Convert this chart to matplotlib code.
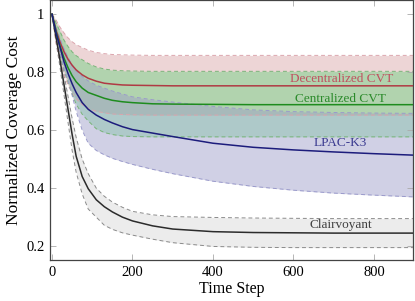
import matplotlib
matplotlib.use('Agg')
import matplotlib.pyplot as plt
import numpy as np

plt.rcParams['font.family'] = ['Liberation Serif', 'DejaVu Serif']
plt.rcParams['mathtext.fontset'] = 'stix'

t = [0, 10, 20, 30, 40, 50, 60, 75, 90, 110, 130, 150, 175, 200, 250, 300,
     400, 500, 600, 700, 800, 897]

# Decentralized CVT
dec_mean = [1.0, 0.945, 0.903, 0.870, 0.844, 0.824, 0.808, 0.791, 0.779, 0.769, 0.762,
            0.759, 0.756, 0.755, 0.754, 0.753, 0.753, 0.753, 0.753, 0.753, 0.753, 0.753]
dec_hi = [1.0, 0.980, 0.955, 0.935, 0.918, 0.905, 0.895, 0.885, 0.876, 0.868, 0.864,
          0.861, 0.860, 0.859, 0.858, 0.858, 0.858, 0.858, 0.858, 0.858, 0.858, 0.858]
dec_lo = [1.0, 0.900, 0.840, 0.790, 0.755, 0.728, 0.708, 0.688, 0.675, 0.665, 0.660,
          0.656, 0.654, 0.653, 0.652, 0.652, 0.652, 0.652, 0.652, 0.652, 0.652, 0.652]

# Centralized CVT
cen_mean = [1.0, 0.940, 0.890, 0.848, 0.815, 0.788, 0.767, 0.745, 0.730, 0.720, 0.710,
            0.703, 0.698, 0.695, 0.691, 0.690, 0.689, 0.688, 0.688, 0.688, 0.688, 0.688]
cen_hi = [1.0, 0.970, 0.940, 0.910, 0.888, 0.870, 0.857, 0.843, 0.830, 0.818, 0.811,
          0.807, 0.805, 0.804, 0.803, 0.803, 0.803, 0.803, 0.803, 0.803, 0.803, 0.803]
cen_lo = [1.0, 0.915, 0.860, 0.805, 0.765, 0.725, 0.690, 0.655, 0.632, 0.605, 0.592,
          0.585, 0.580, 0.578, 0.577, 0.577, 0.577, 0.577, 0.577, 0.577, 0.577, 0.577]

# LPAC-K3
lpac_mean = [1.0, 0.935, 0.886, 0.835, 0.795, 0.760, 0.730, 0.695, 0.672, 0.652, 0.637,
             0.625, 0.612, 0.602, 0.590, 0.578, 0.555, 0.541, 0.532, 0.525, 0.519, 0.514]
lpac_hi = [1.0, 0.955, 0.915, 0.880, 0.850, 0.825, 0.805, 0.785, 0.770, 0.755, 0.745,
           0.735, 0.725, 0.715, 0.705, 0.697, 0.682, 0.670, 0.664, 0.661, 0.659, 0.658]
lpac_lo = [1.0, 0.930, 0.865, 0.810, 0.770, 0.720, 0.665, 0.600, 0.555, 0.530, 0.515,
           0.503, 0.492, 0.482, 0.465, 0.450, 0.424, 0.406, 0.393, 0.383, 0.376, 0.370]

# Clairvoyant
cla_mean = [1.0, 0.920, 0.840, 0.755, 0.670, 0.585, 0.510, 0.440, 0.398, 0.360, 0.336,
            0.318, 0.300, 0.287, 0.270, 0.259, 0.250, 0.247, 0.246, 0.245, 0.245, 0.245]
cla_hi = [1.0, 0.935, 0.865, 0.790, 0.715, 0.640, 0.575, 0.500, 0.450, 0.400, 0.372,
          0.352, 0.334, 0.320, 0.308, 0.302, 0.299, 0.297, 0.296, 0.295, 0.295, 0.295]
cla_lo = [1.0, 0.905, 0.815, 0.720, 0.625, 0.530, 0.455, 0.380, 0.328, 0.300, 0.272,
          0.258, 0.246, 0.238, 0.224, 0.212, 0.199, 0.196, 0.195, 0.195, 0.195, 0.195]

fig = plt.figure(figsize=(4.15, 3.01), dpi=100)
ax = fig.add_axes([0.1205, 0.136, 0.8745, 0.863])

# bands
ax.fill_between(t, cla_lo, cla_hi, color='#ececec', lw=0, zorder=1)
ax.fill_between(t, dec_lo, dec_hi, color=(165/255, 45/255, 50/255), alpha=0.2, lw=0, zorder=1)
ax.fill_between(t, cen_lo, cen_hi, color=(41/255, 209/255, 83/255), alpha=0.3, lw=0, zorder=1)
ax.fill_between(t, lpac_lo, lpac_hi, color=(157/255, 157/255, 200/255), alpha=0.47, lw=0, zorder=1)

# band edges
for lo, hi, c in [(cla_lo, cla_hi, '#8a8a8a'), (dec_lo, dec_hi, '#dba5ad'),
                  (cen_lo, cen_hi, '#78b478'), (lpac_lo, lpac_hi, '#9a9acb')]:
    ax.plot(t, lo, color=c, lw=0.7, ls=(0, (4, 3)), zorder=2)
    ax.plot(t, hi, color=c, lw=0.7, ls=(0, (4, 3)), zorder=2)

# means
ax.plot(t, cla_mean, color='#2b2b2b', lw=1.1, zorder=3)
ax.plot(t, dec_mean, color='#b03a44', lw=1.1, zorder=3)
ax.plot(t, cen_mean, color='#1e8c1e', lw=1.1, zorder=3)
ax.plot(t, lpac_mean, color='#1c1c7c', lw=1.1, zorder=3)

ax.text(847, 0.776, 'Decentralized CVT', color='#c05060', fontsize=9.5, ha='right', va='center', zorder=4)
ax.text(830, 0.707, 'Centralized CVT', color='#2a8a2a', fontsize=9.5, ha='right', va='center', zorder=4)
ax.text(716, 0.555, 'LPAC-K3', color='#3a3a90', fontsize=9.5, ha='center', va='center', zorder=4)
ax.text(717, 0.272, 'Clairvoyant', color='#404040', fontsize=9.5, ha='center', va='center', zorder=4)

ax.set_xlim(-5, 897)
ax.set_ylim(0.152, 1.048)
ax.set_xticks([0, 200, 400, 600, 800])
ax.set_yticks([0.2, 0.4, 0.6, 0.8, 1.0])
ax.set_yticklabels(['0.2', '0.4', '0.6', '0.8', '1'])
ax.tick_params(direction='in', top=True, right=True, length=4, width=0.6,
               color='#aaaaaa', labelsize=10.5, pad=4)
for s in ax.spines.values():
    s.set_color('#444444')
    s.set_linewidth(0.9)

ax.set_xlabel('Time Step', fontsize=11.5, labelpad=2)
ax.set_ylabel('Normalized Coverage Cost', fontsize=12.5, labelpad=3)

fig.savefig('out.png', dpi=100)
